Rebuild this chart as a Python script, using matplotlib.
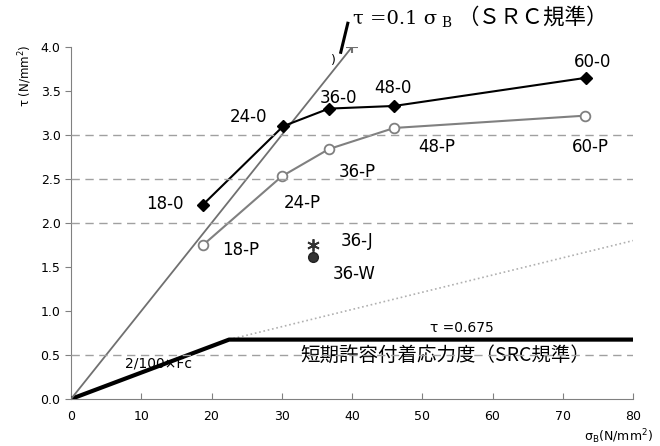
import numpy as np
import matplotlib
matplotlib.use("Agg")
import matplotlib.pyplot as plt
from matplotlib.transforms import offset_copy

# --- dados ---
sb_0 = [18.8, 30.2, 36.7, 46.0, 73.3]
tau_0 = [2.21, 3.10, 3.30, 3.33, 3.65]
nomes_0 = ["18-0", "24-0", "36-0", "48-0", "60-0"]

sb_p = [18.8, 30.0, 36.7, 46.0, 73.2]
tau_p = [1.75, 2.53, 2.84, 3.08, 3.22]
nomes_p = ["18-P", "24-P", "36-P", "48-P", "60-P"]

sb_j, tau_j = [34.4], [1.75]
sb_w, tau_w = [34.4], [1.61]

# tau = 0.1 sigma_B
sb_src = [0, 40]
tau_src = [0.0, 4.0]

# tensao admissivel de curto prazo
sb_adm = [0, 22.5, 80]
tau_adm = [0.0, 0.675, 0.675]
sb_adm_ext = [22.5, 80]
tau_adm_ext = [0.675, 1.8]

grade_y = [0.5, 2.0, 2.5, 3.0]

plt.rcParams['font.family'] = ['DejaVu Sans', 'Noto Sans CJK JP']

fig = plt.figure(figsize=(6.6, 4.46), dpi=100)
ax = fig.add_axes([0.1076, 0.1054, 0.8515, 0.7892])

for g in grade_y:
    ax.axhline(g, color='#a0a0a0', linestyle=(0, (6, 4)), linewidth=1.0, zorder=5)

ax.plot(sb_adm_ext, tau_adm_ext, color='#b0b0b0', linestyle=':', linewidth=1.2, zorder=2)
ax.plot(sb_adm, tau_adm, color='black', linewidth=3.0, zorder=3)
ax.plot(sb_src, tau_src, color='#707070', linewidth=1.3, marker='+', markevery=[1],
        markersize=8, markeredgewidth=1.5, zorder=3)

ax.plot(sb_p, tau_p, color='#808080', linewidth=1.5, marker='o', markersize=7,
        markerfacecolor='white', markeredgecolor='#808080', markeredgewidth=1.3, zorder=4)
ax.plot(sb_0, tau_0, color='black', linewidth=1.5, marker='D', markersize=6,
        markerfacecolor='black', zorder=4)

ax.plot(sb_j, tau_j, linestyle='none', marker=(6, 2, 0), markersize=9,
        markeredgecolor='#333333', markeredgewidth=1.3, zorder=4)
ax.plot(sb_w, tau_w, linestyle='none', marker='o', markersize=7,
        markerfacecolor='#333333', markeredgecolor='#222222', zorder=4)

# rotulos dos pontos
pos_0 = [(13.4, 2.22), (25.2, 3.20), (38.0, 3.42), (45.8, 3.53), (74.2, 3.83)]
pos_p = [(24.1, 1.69), (32.9, 2.23), (40.7, 2.58), (52.1, 2.86), (73.9, 2.86)]
for nome, (x, y) in zip(nomes_0, pos_0):
    ax.text(x, y, nome, fontsize=12, ha='center', va='center', zorder=6)
for nome, (x, y) in zip(nomes_p, pos_p):
    ax.text(x, y, nome, fontsize=12, ha='center', va='center', zorder=6)
ax.text(40.7, 1.80, "36-J", fontsize=12, ha='center', va='center', zorder=6)
ax.text(40.3, 1.42, "36-W", fontsize=12, ha='center', va='center', zorder=6)

# titulo da reta tau = 0.1 sigma_B, montado em pedacos
t1 = ax.text(40.1, 4.27, "τ =0.1 σ", fontsize=14, family='DejaVu Serif',
             ha='left', va='baseline', clip_on=False)
fig.canvas.draw()
r = fig.canvas.get_renderer()
w1 = t1.get_window_extent(r).width * 72 / fig.dpi
t2 = ax.text(40.1, 4.27, "B", fontsize=10, family='DejaVu Serif', ha='left', va='baseline',
             clip_on=False, transform=offset_copy(ax.transData, fig, x=w1 + 3, y=-3, units='points'))
w2 = t2.get_window_extent(r).width * 72 / fig.dpi
ax.text(40.1, 4.27, "（ＳＲＣ規準）", fontsize=15.5, family=['Noto Sans CJK JP', 'DejaVu Sans'],
        ha='left', va='baseline', clip_on=False,
        transform=offset_copy(ax.transData, fig, x=w1 + w2 + 7, y=0, units='points'))
ax.plot([38.4, 39.4], [3.94, 4.27], color='black', linewidth=2.2, clip_on=False)
ax.text(37.3, 3.85, ")", fontsize=9, ha='center', va='center')

ax.text(7.7, 0.40, "2/100×Fc", fontsize=10, ha='left', va='center', zorder=4)
ax.text(51.1, 0.81, "τ =0.675", fontsize=10, ha='left', va='center')
ax.text(32.6, 0.50, "短期許容付着応力度（SRC規準）", fontsize=14,
        family=['Noto Sans CJK JP', 'DejaVu Sans'], ha='left', va='center', zorder=4)

ax.set_xlim(0, 80)
ax.set_ylim(0, 4.0)
ax.set_xticks(np.arange(0, 81, 10))
ax.set_yticks(np.arange(0, 4.01, 0.5))
ax.set_yticklabels([f"{v:.1f}" for v in np.arange(0, 4.01, 0.5)])
ax.tick_params(axis='x', direction='in', length=4, color='#808080', labelsize=9, pad=8)
ax.tick_params(axis='y', direction='out', length=4, color='#808080', labelsize=9)

for lado in ['top', 'right']:
    ax.spines[lado].set_visible(False)
for lado in ['left', 'bottom']:
    ax.spines[lado].set_color('#808080')

fig.text(0.038, 0.83, "τ (N/mm$^2$)", rotation=90, fontsize=8.5, ha='center', va='center')
fig.text(0.937, 0.022, "σ$_\\mathregular{B}$(N/mm$^2$)", fontsize=9, ha='center', va='center')

fig.savefig("out.png", dpi=100)
